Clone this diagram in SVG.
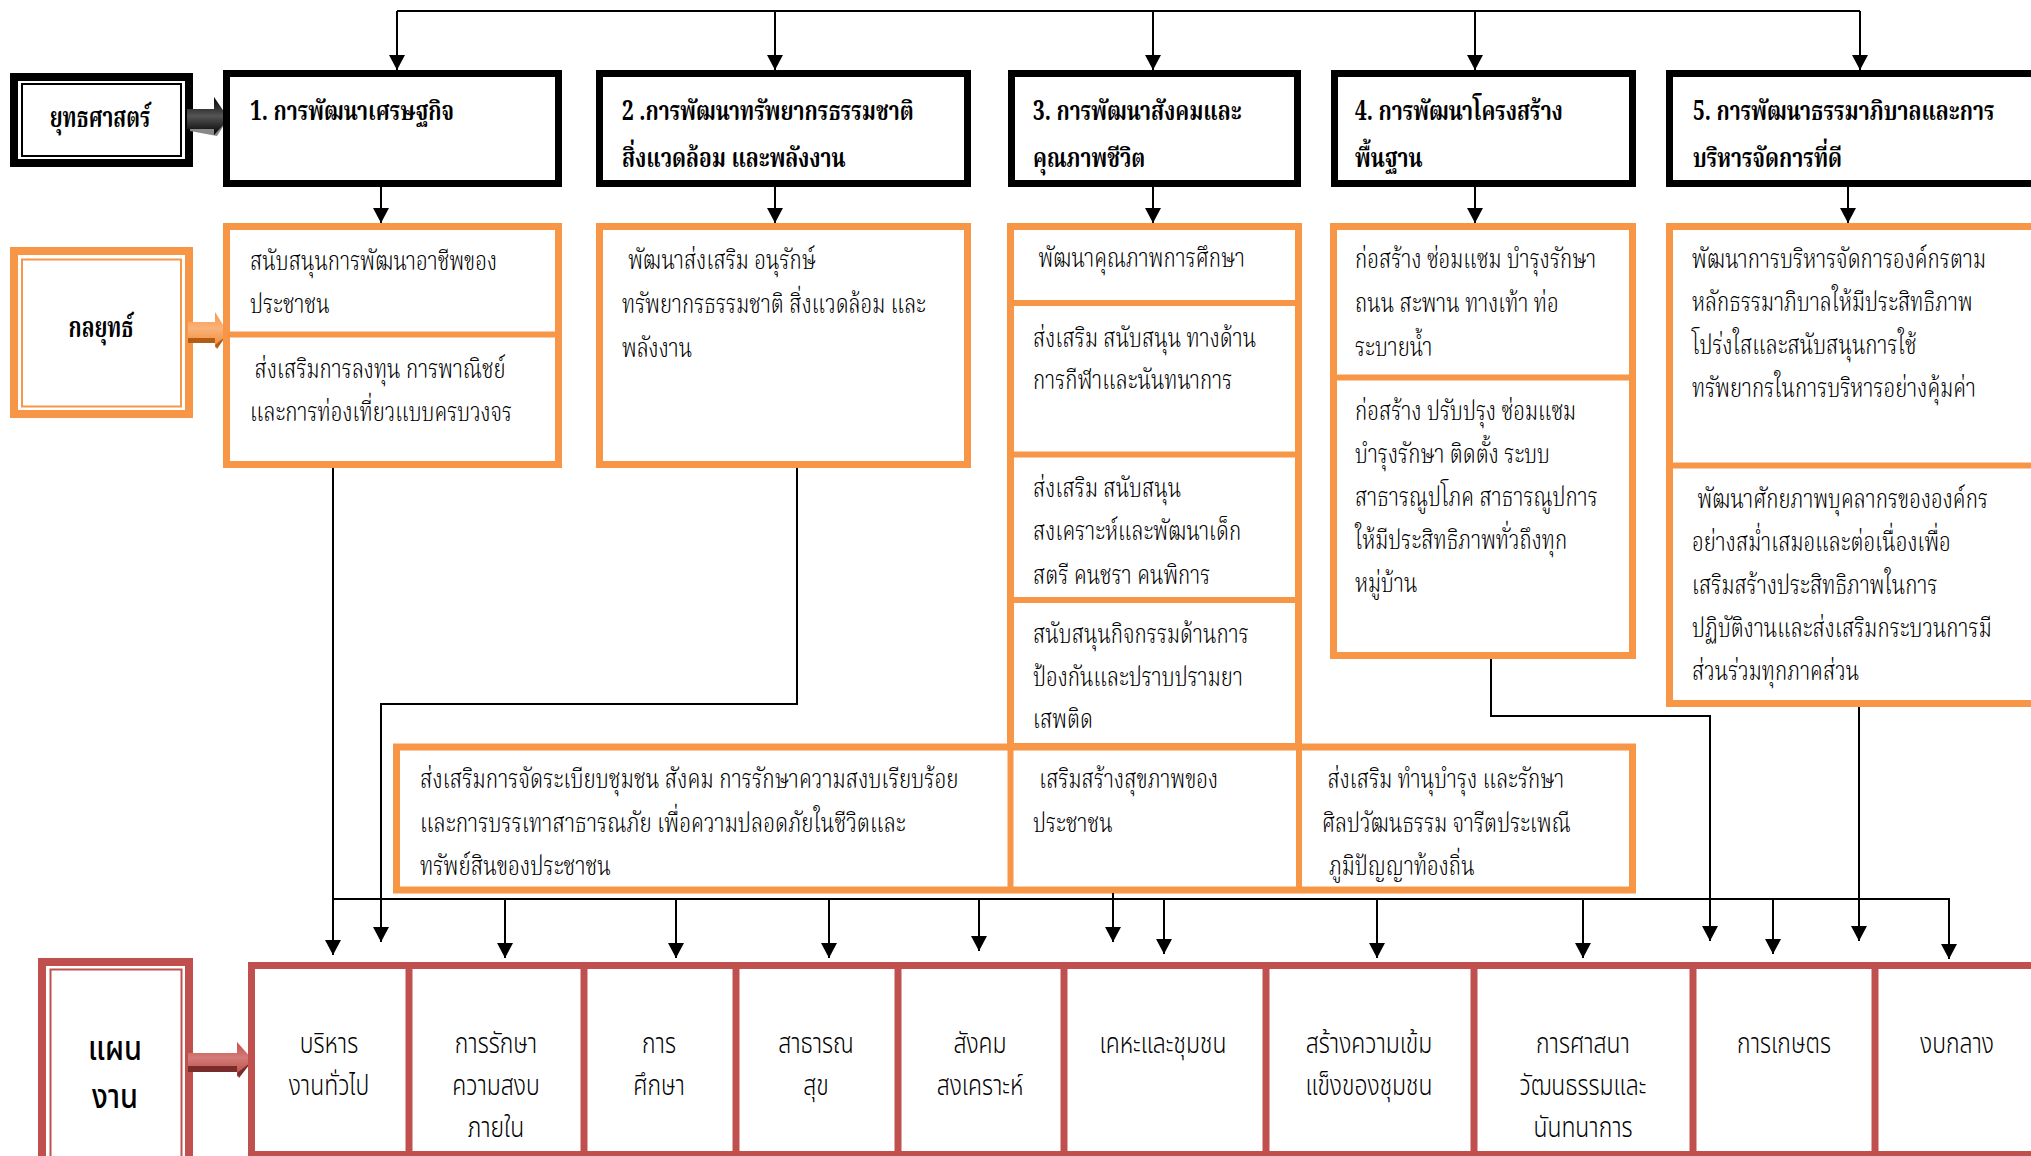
<svg xmlns="http://www.w3.org/2000/svg" width="2031" height="1156" viewBox="0 0 2031 1156">
<defs>
<style>
.hd{font-family:"Noto Serif Thai","Noto Sans Thai",serif;font-weight:bold;font-size:27px;fill:#000}
.st{font-family:"Noto Serif Thai","Noto Sans Thai",serif;font-weight:300;font-size:27px;fill:#000}
.pl{font-family:"Noto Sans Thai","Noto Sans",sans-serif;font-weight:300;font-size:28px;fill:#000;text-anchor:middle}
.lb{font-family:"Noto Serif Thai","Noto Sans Thai",serif;font-weight:bold;font-size:28px;fill:#000;text-anchor:middle}
.lbs{font-family:"Noto Sans Thai","Noto Sans",sans-serif;font-size:34px;font-weight:500;fill:#000;text-anchor:middle}
.hbox{fill:#fff;stroke:#000;stroke-width:7}
.obox{fill:#fff;stroke:#F79646;stroke-width:7}
.odiv{stroke:#F79646;stroke-width:6;fill:none}
.rbox{fill:#fff;stroke:#C0504D;stroke-width:7}
.rdiv{stroke:#C0504D;stroke-width:7;fill:none}
.cn{fill:none;stroke:#000;stroke-width:2}
</style>
<marker id="ah" markerUnits="userSpaceOnUse" markerWidth="16" markerHeight="16" viewBox="0 0 15 16" refX="15" refY="8" orient="auto">
<path d="M0,0 L15,8 L0,16 z" fill="#000"/>
</marker>
<linearGradient id="gBlk" x1="0" y1="0" x2="0" y2="1">
<stop offset="0" stop-color="#000"/><stop offset="0.5" stop-color="#555"/><stop offset="1" stop-color="#000"/>
</linearGradient>
<linearGradient id="gOra" x1="0" y1="0" x2="0" y2="1">
<stop offset="0" stop-color="#F79646"/><stop offset="0.45" stop-color="#FAB27A"/><stop offset="1" stop-color="#F08A34"/>
</linearGradient>
<linearGradient id="gRed" x1="0" y1="0" x2="0" y2="1">
<stop offset="0" stop-color="#C0504D"/><stop offset="0.45" stop-color="#D47B78"/><stop offset="1" stop-color="#B84542"/>
</linearGradient>
</defs>
<rect width="2031" height="1156" fill="#fff"/>

<!-- Left labels -->
<g id="label-strategy">
<rect x="14" y="77" width="175" height="86" fill="#fff" stroke="#000" stroke-width="8"/>
<rect x="22" y="84" width="159" height="72" fill="none" stroke="#000" stroke-width="2"/>
<text class="lb" transform="translate(100 127) scale(0.74 1)">ยุทธศาสตร์</text>
</g>
<g id="arrow-strategy">
<polygon points="190,124 215,124 215,133 222,126 228,119 217,136 190,131" fill="#888"/>
<polygon points="187,109 214,109 214,97 229,119 214,135 214,129 187,129" fill="url(#gBlk)"/>
</g>
<g id="label-tactics">
<rect x="14" y="251" width="175" height="163" fill="#fff" stroke="#F79646" stroke-width="8"/>
<rect x="22" y="259.5" width="159" height="147" fill="none" stroke="#F79646" stroke-width="2"/>
<text class="lb" transform="translate(101 337) scale(0.74 1)">กลยุทธ์</text>
</g>
<g id="arrow-tactics">
<polygon points="188,322 215,322 215,312 228,333 215,348 215,343 188,343" fill="url(#gOra)"/>
<polygon points="188,338 215,338 215,343 188,343" fill="#B35C14"/>
<polygon points="215,345 226,336 228,333 217,349" fill="#B35C14"/>
</g>
<g id="label-plan">
<rect x="42" y="962" width="147" height="200" fill="#fff" stroke="#C0504D" stroke-width="8"/>
<rect x="50.5" y="969.5" width="131" height="190" fill="none" stroke="#C0504D" stroke-width="2"/>
<text class="lbs" transform="translate(115 1060) scale(0.85 1)"><tspan x="0" y="0">แผน</tspan><tspan x="0" y="48">งาน</tspan></text>
</g>
<g id="arrow-plan">
<polygon points="188,1053 237,1053 237,1042 253,1060 237,1077 237,1072 188,1072" fill="url(#gRed)"/>
<polygon points="188,1066 237,1066 237,1072 188,1072" fill="#7A2C2A"/>
<polygon points="237,1073 250,1063 253,1060 239,1078" fill="#7A2C2A"/>
</g>

<!-- Strategy headers -->
<g id="strategy-1">
<rect class="hbox" x="226.5" y="73.5" width="332" height="110"/>
<text class="hd" transform="translate(250 120) scale(0.78 1)">1. การพัฒนาเศรษฐกิจ</text>
</g>
<g id="strategy-2">
<rect class="hbox" x="599.5" y="73.5" width="368" height="110"/>
<text class="hd" transform="translate(622 120) scale(0.78 1)"><tspan x="0" y="0">2 .การพัฒนาทรัพยากรธรรมชาติ</tspan><tspan x="0" y="47">สิ่งแวดล้อม และพลังงาน</tspan></text>
</g>
<g id="strategy-3">
<rect class="hbox" x="1011.5" y="73.5" width="286" height="110"/>
<text class="hd" transform="translate(1033 120) scale(0.78 1)"><tspan x="0" y="0">3. การพัฒนาสังคมและ</tspan><tspan x="0" y="47">คุณภาพชีวิต</tspan></text>
</g>
<g id="strategy-4">
<rect class="hbox" x="1334.5" y="73.5" width="298" height="110"/>
<text class="hd" transform="translate(1355 120) scale(0.78 1)"><tspan x="0" y="0">4. การพัฒนาโครงสร้าง</tspan><tspan x="0" y="47">พื้นฐาน</tspan></text>
</g>
<g id="strategy-5">
<rect class="hbox" x="1669.5" y="73.5" width="420" height="110"/>
<text class="hd" transform="translate(1693 120) scale(0.78 1)"><tspan x="0" y="0">5. การพัฒนาธรรมาภิบาลและการ</tspan><tspan x="0" y="47">บริหารจัดการที่ดี</tspan></text>
</g>

<!-- Tactics -->
<g id="tactics-1">
<rect class="obox" x="226.5" y="226.5" width="332" height="238"/>
<path class="odiv" d="M227,334.5 H559"/>
<text class="st" transform="translate(250 270) scale(0.77 1)"><tspan x="0" y="0">สนับสนุนการพัฒนาอาชีพของ</tspan><tspan x="0" y="43">ประชาชน</tspan><tspan x="6" y="108">ส่งเสริมการลงทุน การพาณิชย์</tspan><tspan x="0" y="151">และการท่องเที่ยวแบบครบวงจร</tspan></text>
</g>
<g id="tactics-2">
<rect class="obox" x="599.5" y="226.5" width="368" height="238"/>
<text class="st" transform="translate(622 269) scale(0.77 1)"><tspan x="8" y="0">พัฒนาส่งเสริม อนุรักษ์</tspan><tspan x="0" y="44">ทรัพยากรธรรมชาติ สิ่งแวดล้อม และ</tspan><tspan x="0" y="88">พลังงาน</tspan></text>
</g>
<g id="tactics-3">
<rect class="obox" x="1010.5" y="226.5" width="288" height="520"/>
<path class="odiv" d="M1011,303 H1298 M1011,454.5 H1298 M1011,600 H1298"/>
<text class="st" transform="translate(1033 267) scale(0.77 1)"><tspan x="7" y="0">พัฒนาคุณภาพการศึกษา</tspan><tspan x="0" y="80">ส่งเสริม สนับสนุน ทางด้าน</tspan><tspan x="0" y="122">การกีฬาและนันทนาการ</tspan><tspan x="0" y="230">ส่งเสริม สนับสนุน</tspan><tspan x="0" y="273">สงเคราะห์และพัฒนาเด็ก</tspan><tspan x="0" y="317">สตรี คนชรา  คนพิการ</tspan><tspan x="0" y="376">สนับสนุนกิจกรรมด้านการ</tspan><tspan x="0" y="419">ป้องกันและปราบปรามยา</tspan><tspan x="0" y="461">เสพติด</tspan></text>
</g>
<g id="tactics-4">
<rect class="obox" x="1333.5" y="226.5" width="299" height="429"/>
<path class="odiv" d="M1334,377.5 H1632"/>
<text class="st" transform="translate(1355 268) scale(0.77 1)"><tspan x="0" y="0">ก่อสร้าง ซ่อมแซม บำรุงรักษา</tspan><tspan x="0" y="44">ถนน สะพาน  ทางเท้า ท่อ</tspan><tspan x="0" y="88">ระบายน้ำ</tspan><tspan x="0" y="152">ก่อสร้าง ปรับปรุง ซ่อมแซม</tspan><tspan x="0" y="195">บำรุงรักษา ติดตั้ง ระบบ</tspan><tspan x="0" y="238">สาธารณูปโภค สาธารณูปการ</tspan><tspan x="0" y="281">ให้มีประสิทธิภาพทั่วถึงทุก</tspan><tspan x="0" y="324">หมู่บ้าน</tspan></text>
</g>
<g id="tactics-5">
<rect class="obox" x="1669.5" y="226.5" width="420" height="477"/>
<path class="odiv" d="M1670,465.5 H2040"/>
<text class="st" transform="translate(1692 268) scale(0.77 1)"><tspan x="0" y="0">พัฒนาการบริหารจัดการองค์กรตาม</tspan><tspan x="0" y="43">หลักธรรมาภิบาลให้มีประสิทธิภาพ</tspan><tspan x="0" y="86">โปร่งใสและสนับสนุนการใช้</tspan><tspan x="0" y="129">ทรัพยากรในการบริหารอย่างคุ้มค่า</tspan><tspan x="7" y="240">พัฒนาศักยภาพบุคลากรขององค์กร</tspan><tspan x="0" y="283">อย่างสม่ำเสมอและต่อเนื่องเพื่อ</tspan><tspan x="0" y="326">เสริมสร้างประสิทธิภาพในการ</tspan><tspan x="0" y="369">ปฏิบัติงานและส่งเสริมกระบวนการมี</tspan><tspan x="0" y="412">ส่วนร่วมทุกภาคส่วน</tspan></text>
</g>
<g id="tactics-row">
<rect class="obox" x="396.5" y="747" width="1236" height="143"/>
<path class="odiv" d="M1010.5,747 V890 M1299,747 V890"/>
<text class="st" transform="translate(420 788) scale(0.78 1)"><tspan x="0" y="0">ส่งเสริมการจัดระเบียบชุมชน สังคม การรักษาความสงบเรียบร้อย</tspan><tspan x="0" y="44">และการบรรเทาสาธารณภัย เพื่อความปลอดภัยในชีวิตและ</tspan><tspan x="0" y="87">ทรัพย์สินของประชาชน</tspan></text>
<text class="st" transform="translate(1033 788) scale(0.77 1)"><tspan x="8" y="0">เสริมสร้างสุขภาพของ</tspan><tspan x="0" y="44">ประชาชน</tspan></text>
<text class="st" transform="translate(1322 788) scale(0.77 1)"><tspan x="7" y="0">ส่งเสริม ทำนุบำรุง และรักษา</tspan><tspan x="0" y="44">ศิลปวัฒนธรรม จารีตประเพณี</tspan><tspan x="9" y="87">ภูมิปัญญาท้องถิ่น</tspan></text>
</g>

<!-- Plans -->
<g id="plans">
<rect class="rbox" x="251.5" y="965.5" width="1850" height="189"/>
<path class="rdiv" d="M409,966 V1156 M584,966 V1156 M736,966 V1156 M898,966 V1156 M1064,966 V1156 M1266,966 V1156 M1474,966 V1156 M1693,966 V1156 M1875,966 V1156"/>
</g>
<g id="plan-1"><text class="pl" transform="translate(329 1053) scale(0.82 1)"><tspan x="0" y="0">บริหาร</tspan><tspan x="0" y="42">งานทั่วไป</tspan></text></g>
<g id="plan-2"><text class="pl" transform="translate(496 1053) scale(0.82 1)"><tspan x="0" y="0">การรักษา</tspan><tspan x="0" y="42">ความสงบ</tspan><tspan x="0" y="84">ภายใน</tspan></text></g>
<g id="plan-3"><text class="pl" transform="translate(659 1053) scale(0.82 1)"><tspan x="0" y="0">การ</tspan><tspan x="0" y="42">ศึกษา</tspan></text></g>
<g id="plan-4"><text class="pl" transform="translate(816 1053) scale(0.82 1)"><tspan x="0" y="0">สาธารณ</tspan><tspan x="0" y="42">สุข</tspan></text></g>
<g id="plan-5"><text class="pl" transform="translate(980 1053) scale(0.82 1)"><tspan x="0" y="0">สังคม</tspan><tspan x="0" y="42">สงเคราะห์</tspan></text></g>
<g id="plan-6"><text class="pl" transform="translate(1163 1053) scale(0.82 1)">เคหะและชุมชน</text></g>
<g id="plan-7"><text class="pl" transform="translate(1369 1053) scale(0.82 1)"><tspan x="0" y="0">สร้างความเข้ม</tspan><tspan x="0" y="42">แข็งของชุมชน</tspan></text></g>
<g id="plan-8"><text class="pl" transform="translate(1583 1053) scale(0.82 1)"><tspan x="0" y="0">การศาสนา</tspan><tspan x="0" y="42">วัฒนธรรมและ</tspan><tspan x="0" y="84">นันทนาการ</tspan></text></g>
<g id="plan-9"><text class="pl" transform="translate(1784 1053) scale(0.82 1)">การเกษตร</text></g>
<g id="plan-10"><text class="pl" transform="translate(1957 1053) scale(0.82 1)">งบกลาง</text></g>

<!-- Connectors -->
<g id="connectors" class="cn">
<path d="M397,11 H1860"/>
<path d="M397,11 V70" marker-end="url(#ah)"/>
<path d="M775,11 V70" marker-end="url(#ah)"/>
<path d="M1153,11 V70" marker-end="url(#ah)"/>
<path d="M1475,11 V70" marker-end="url(#ah)"/>
<path d="M1860,11 V70" marker-end="url(#ah)"/>
<path d="M381,187 V223" marker-end="url(#ah)"/>
<path d="M775,187 V223" marker-end="url(#ah)"/>
<path d="M1153,187 V223" marker-end="url(#ah)"/>
<path d="M1475,187 V223" marker-end="url(#ah)"/>
<path d="M1848,187 V223" marker-end="url(#ah)"/>
<path d="M333,468 V955" marker-end="url(#ah)"/>
<path d="M797,468 V704 H381 V942" marker-end="url(#ah)"/>
<path d="M333,899 H1949 V959" marker-end="url(#ah)"/>
<path d="M505,899 V958" marker-end="url(#ah)"/>
<path d="M676,899 V958" marker-end="url(#ah)"/>
<path d="M829,899 V958" marker-end="url(#ah)"/>
<path d="M979,899 V951" marker-end="url(#ah)"/>
<path d="M1113,893 V942" marker-end="url(#ah)"/>
<path d="M1164,899 V954" marker-end="url(#ah)"/>
<path d="M1377,899 V958" marker-end="url(#ah)"/>
<path d="M1583,899 V958" marker-end="url(#ah)"/>
<path d="M1773,899 V954" marker-end="url(#ah)"/>
<path d="M1491,659 V716 H1710 V941" marker-end="url(#ah)"/>
<path d="M1859,707 V941" marker-end="url(#ah)"/>
</g>
</svg>
